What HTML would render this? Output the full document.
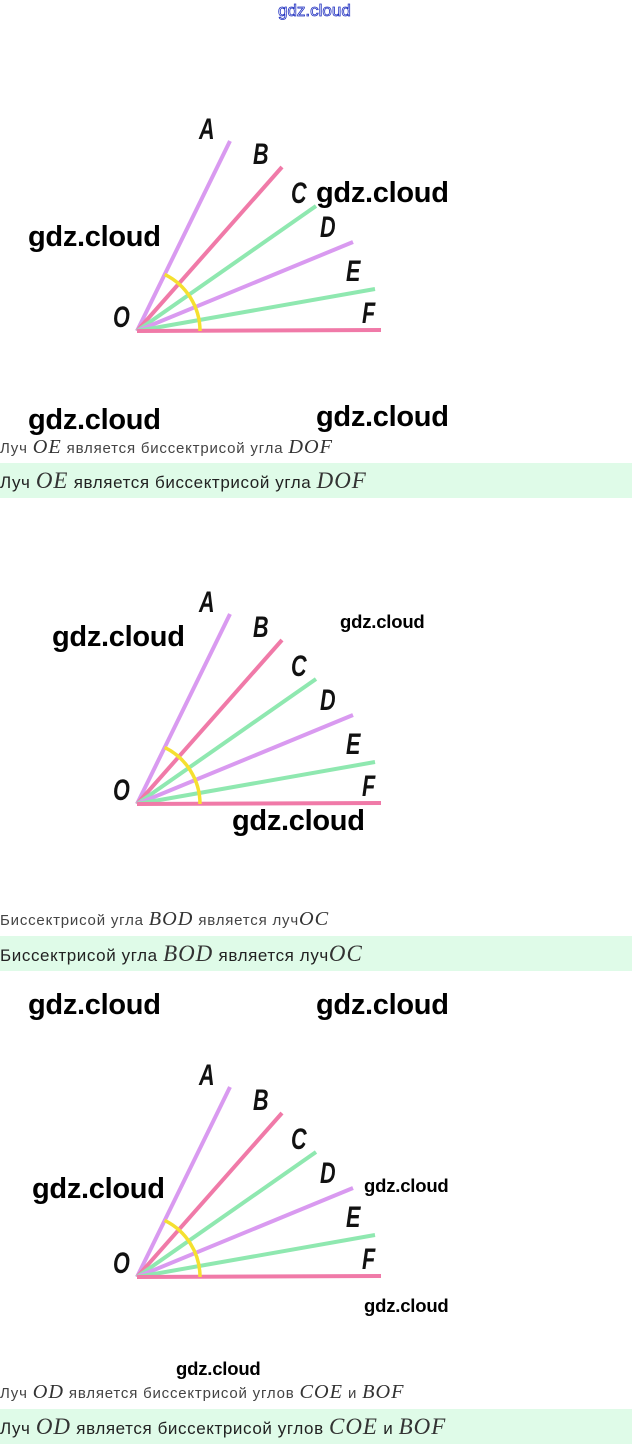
<!DOCTYPE html>
<html><head><meta charset="utf-8"><style>
body{margin:0;width:632px;height:1444px;background:#fff;position:relative;overflow:hidden;font-family:"Liberation Sans",sans-serif}
.a{position:absolute;white-space:nowrap}
.wm{font-family:"Liberation Sans",sans-serif;font-weight:bold;font-size:29px;color:#000;letter-spacing:-0.3px}
.wms{font-weight:bold;font-size:18.5px;color:#000;letter-spacing:-0.2px}
.t{font-size:15px;color:#444;letter-spacing:0.8px}
.band{position:absolute;left:0;width:632px;height:35px;background:#dffbe8}
.bt{font-size:17px;color:#222;letter-spacing:0.6px}
i.m{font-family:"Liberation Serif",serif;font-style:italic;font-size:1.35em;color:#333;letter-spacing:1px}
</style></head><body>
<div class="a" style="left:278px;top:1px;font-size:17px;color:#fff;-webkit-text-stroke:0.8px #2030c0">gdz.cloud</div>

<svg class="a" style="left:0;top:0" width="632" height="1444">
<defs>
<g id="d">
<line x1="137" y1="331" x2="230" y2="141" stroke="#d99af0" stroke-width="4"/>
<line x1="137" y1="331" x2="282" y2="167" stroke="#f07aa8" stroke-width="4"/>
<line x1="137" y1="331" x2="316" y2="206" stroke="#8fe8b0" stroke-width="4"/>
<line x1="137" y1="331" x2="353" y2="242" stroke="#d99af0" stroke-width="4"/>
<line x1="137" y1="331" x2="375" y2="289" stroke="#8fe8b0" stroke-width="4"/>
<line x1="137" y1="331" x2="381" y2="330" stroke="#f07aa8" stroke-width="4"/>
<path d="M164.7 274.4 A63 63 0 0 1 200 331" fill="none" stroke="#f5e030" stroke-width="3.5"/>
<g font-family="Liberation Sans,sans-serif" font-weight="bold" font-style="italic" font-size="30" fill="#111">
<text transform="translate(199,139) scale(0.72,1)">A</text>
<text transform="translate(253,164) scale(0.72,1)">B</text>
<text transform="translate(291,203) scale(0.72,1)">C</text>
<text transform="translate(320,237) scale(0.72,1)">D</text>
<text transform="translate(346,281) scale(0.72,1)">E</text>
<text transform="translate(362,323) scale(0.72,1)">F</text>
<text transform="translate(113,327) scale(0.72,1)">O</text>
</g></g></defs>
<use href="#d"/>
<use href="#d" y="473"/>
<use href="#d" y="946"/>
</svg>

<div class="a wm" style="left:28px;top:221px">gdz.cloud</div>
<div class="a wm" style="left:316px;top:177px">gdz.cloud</div>
<div class="a wm" style="left:28px;top:404px">gdz.cloud</div>
<div class="a wm" style="left:316px;top:401px">gdz.cloud</div>
<div class="a t" style="left:0;top:436px">Луч <i class="m">OE</i> является биссектрисой угла <i class="m">DOF</i></div>
<div class="band" style="top:463px"></div>
<div class="a bt" style="left:0;top:468px">Луч <i class="m">OE</i> является биссектрисой угла <i class="m">DOF</i></div>

<div class="a wm" style="left:52px;top:621px">gdz.cloud</div>
<div class="a wms" style="left:340px;top:611px">gdz.cloud</div>
<div class="a wm" style="left:232px;top:805px">gdz.cloud</div>
<div class="a t" style="left:0;top:908px">Биссектрисой угла <i class="m">BOD</i> является луч<i class="m">OC</i></div>
<div class="band" style="top:936px"></div>
<div class="a bt" style="left:0;top:941px">Биссектрисой угла <i class="m">BOD</i> является луч<i class="m">OC</i></div>

<div class="a wm" style="left:28px;top:989px">gdz.cloud</div>
<div class="a wm" style="left:316px;top:989px">gdz.cloud</div>
<div class="a wm" style="left:32px;top:1173px">gdz.cloud</div>
<div class="a wms" style="left:364px;top:1175px">gdz.cloud</div>
<div class="a wms" style="left:364px;top:1295px">gdz.cloud</div>
<div class="a wms" style="left:176px;top:1358px">gdz.cloud</div>
<div class="a t" style="left:0;top:1381px">Луч <i class="m">OD</i> является биссектрисой углов <i class="m">COE</i> и <i class="m">BOF</i></div>
<div class="band" style="top:1409px"></div>
<div class="a bt" style="left:0;top:1414px">Луч <i class="m">OD</i> является биссектрисой углов <i class="m">COE</i> и <i class="m">BOF</i></div>
</body></html>
